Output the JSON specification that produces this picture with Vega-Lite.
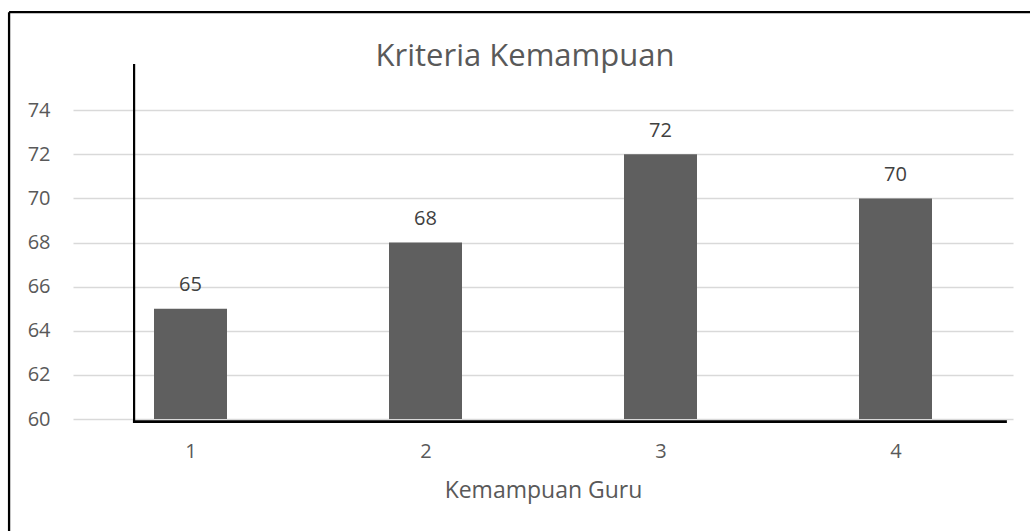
{
  "$schema": "https://vega.github.io/schema/vega-lite/v6.json",
  "autosize": {"type": "none"},
  "padding": {"left": 73, "top": 66, "right": 17, "bottom": 112},
  "width": 940,
  "height": 353,
  "background": "white",
  "title": {
    "text": "Kriteria Kemampuan",
    "font": "Open Sans",
    "fontSize": 31,
    "fontWeight": "normal",
    "color": "#595959",
    "anchor": "middle",
    "dx": -18,
    "baseline": "alphabetic",
    "offset": 0,
    "dy": 86
  },
  "data": {
    "values": [
      {"kemampuan": 1, "nilai": 65},
      {"kemampuan": 2, "nilai": 68},
      {"kemampuan": 3, "nilai": 72},
      {"kemampuan": 4, "nilai": 70}
    ]
  },
  "config": {
    "view": {"stroke": null},
    "font": "Open Sans"
  },
  "layer": [
    {
      "mark": {"type": "bar", "size": 73, "color": "#5f5f5f"},
      "encoding": {
        "x": {
          "field": "kemampuan",
          "type": "quantitative",
          "scale": {"domain": [0.5, 4.5], "nice": false, "zero": false, "padding": 0},
          "axis": {
            "values": [1, 2, 3, 4],
            "format": "d",
            "title": "Kemampuan Guru",
            "domain": false,
            "ticks": false,
            "tickSize": 0,
            "grid": false,
            "labelFont": "Open Sans",
            "labelFontSize": 20,
            "labelColor": "#595959",
            "labelBaseline": "alphabetic",
            "labelPadding": 38.5,
            "titleFont": "Open Sans",
            "titleFontSize": 23,
            "titleFontWeight": "normal",
            "titleColor": "#595959",
            "titleBaseline": "alphabetic",
            "titleY": 78.6
          }
        },
        "y": {
          "field": "nilai",
          "type": "quantitative",
          "scale": {"domain": [60, 76], "nice": false, "zero": false},
          "axis": {
            "values": [60, 62, 64, 66, 68, 70, 72, 74],
            "title": null,
            "domain": false,
            "ticks": false,
            "tickSize": 0,
            "grid": true,
            "gridColor": "#d9d9d9",
            "gridWidth": 1.5,
            "labelFont": "Open Sans",
            "labelFontSize": 20,
            "labelColor": "#595959",
            "labelBaseline": "middle",
            "labelPadding": 23
          }
        },
        "y2": {"datum": 60}
      }
    },
    {
      "mark": {"type": "text", "baseline": "alphabetic", "dy": -17.5, "fontSize": 20, "color": "#404040", "font": "Open Sans"},
      "encoding": {
        "x": {"field": "kemampuan", "type": "quantitative"},
        "y": {"field": "nilai", "type": "quantitative"},
        "text": {"field": "nilai", "type": "quantitative"}
      }
    },
    {
      "data": {"values": [{}]},
      "mark": {"type": "rule", "color": "black", "strokeWidth": 2.2},
      "encoding": {
        "x": {"datum": 0.76},
        "y": {"datum": 59.85},
        "y2": {"datum": 76.09}
      }
    },
    {
      "data": {"values": [{}]},
      "mark": {"type": "rule", "color": "black", "strokeWidth": 2.7},
      "encoding": {
        "x": {"datum": 0.755},
        "x2": {"datum": 4.474},
        "y": {"datum": 59.88}
      }
    },
    {
      "data": {"values": [{}]},
      "mark": {"type": "rule", "color": "black", "strokeWidth": 2.3},
      "encoding": {
        "x": {"datum": 0.228},
        "x2": {"datum": 4.8},
        "y": {"datum": 78.44}
      }
    },
    {
      "data": {"values": [{}]},
      "mark": {"type": "rule", "color": "black", "strokeWidth": 2.3},
      "encoding": {
        "x": {"datum": 0.228},
        "y": {"datum": 78.44},
        "y2": {"datum": 54}
      }
    }
  ]
}
